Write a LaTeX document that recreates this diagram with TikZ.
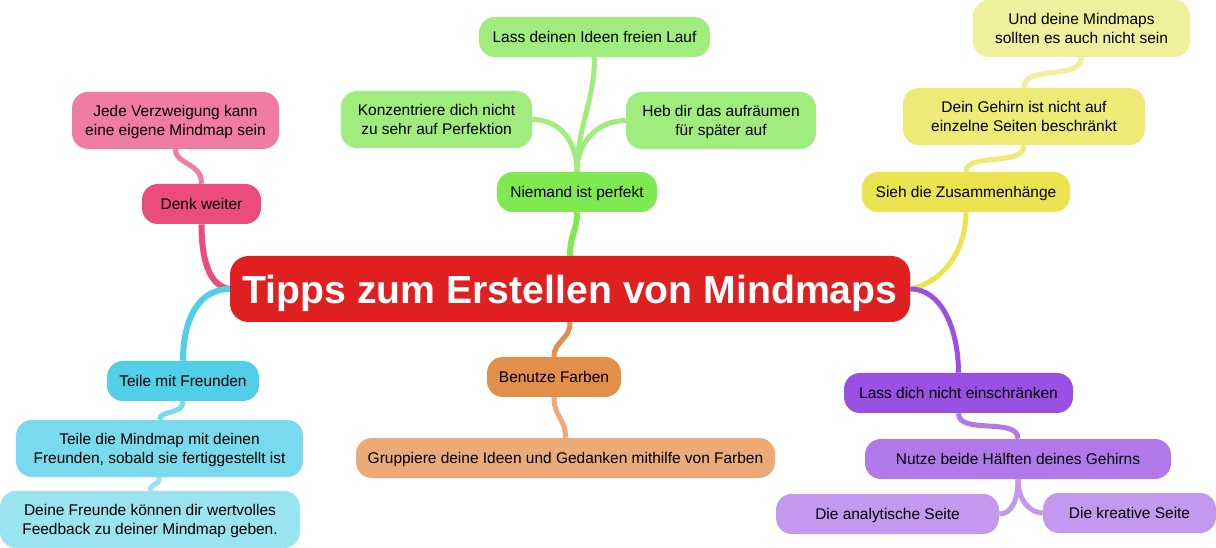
\documentclass[tikz,border=0pt]{standalone}
\usepackage{fontspec}
\setmainfont{Liberation Sans}
\usetikzlibrary{backgrounds}
\definecolor{rootc}{HTML}{E02020}
\definecolor{pinkA}{HTML}{EA4C7E}
\definecolor{pinkB}{HTML}{F07CA5}
\definecolor{greenA}{HTML}{80E850}
\definecolor{greenB}{HTML}{A0EC7C}
\definecolor{yelA}{HTML}{E9E450}
\definecolor{yelB}{HTML}{EDEA75}
\definecolor{yelC}{HTML}{F0EF9B}
\definecolor{cyanA}{HTML}{50CFE6}
\definecolor{cyanB}{HTML}{78DAEC}
\definecolor{cyanC}{HTML}{9AE3F0}
\definecolor{oraA}{HTML}{E38F4C}
\definecolor{oraB}{HTML}{EBAA78}
\definecolor{purA}{HTML}{9A50E3}
\definecolor{purB}{HTML}{B078E8}
\definecolor{purC}{HTML}{C299EE}
\newcommand\tx[1]{\raisebox{-4.5pt}[0pt][0pt]{\begin{tabular}{@{}c@{}}#1\end{tabular}}}
\newcommand\rtx[1]{\raisebox{-10.8pt}[0pt][0pt]{\begin{tabular}{@{}c@{}}#1\end{tabular}}}
\tikzset{
  idea/.style n args={3}{fill=#1,rounded corners=12pt,inner sep=0pt,
    minimum width=#2*0.75pt,minimum height=#3*0.75pt,text=black,
    font=\fontsize{11.6}{14.3}\selectfont},
  rootbox/.style={fill=rootc,rounded corners=14pt,inner sep=0pt,
    minimum width=680*0.75pt,minimum height=66*0.75pt,text=white,
    font=\fontsize{29.4}{32}\selectfont\bfseries},
  link/.style={line width=#1*0.75pt,line cap=butt},
  link/.default=5
}
\begin{document}
\begin{tikzpicture}[x=0.75pt,y=-0.75pt]
\useasboundingbox (0,0) rectangle (1216,548);
\node[rootbox] (root) at (570,289) {\rtx{Tipps zum Erstellen von Mindmaps}};
\node[idea={pinkA}{119}{40}] (denk) at (201.5,204) {\tx{Denk weiter}};
\node[idea={pinkB}{207}{57}] (jede) at (175.5,120.5) {\tx{Jede Verzweigung kann\\eine eigene Mindmap sein}};
\node[idea={greenA}{160}{40}] (niemand) at (577,192) {\tx{Niemand ist perfekt}};
\node[idea={greenB}{231}{40}] (lauf) at (594.5,37) {\tx{Lass deinen Ideen freien Lauf}};
\node[idea={greenB}{191}{57}] (konz) at (436.5,119.5) {\tx{Konzentriere dich nicht\\zu sehr auf Perfektion}};
\node[idea={greenB}{190}{57}] (heb) at (721,120.5) {\tx{Heb dir das aufräumen\\für später auf}};
\node[idea={yelA}{208}{40}] (sieh) at (966,192) {\tx{Sieh die Zusammenhänge}};
\node[idea={yelB}{242}{57}] (dein) at (1024,116.5) {\tx{Dein Gehirn ist nicht auf\\einzelne Seiten beschränkt}};
\node[idea={yelC}{217}{57}] (und) at (1081.5,28.5) {\tx{Und deine Mindmaps\\sollten es auch nicht sein}};
\node[idea={cyanA}{152}{40}] (teilem) at (183,381) {\tx{Teile mit Freunden}};
\node[idea={cyanB}{287}{57}] (teiled) at (159.5,448.5) {\tx{Teile die Mindmap mit deinen\\Freunden, sobald sie fertiggestellt ist}};
\node[idea={cyanC}{300}{57}] (deine) at (150,519.5) {\tx{Deine Freunde können dir wertvolles\\Feedback zu deiner Mindmap geben.}};
\node[idea={oraA}{134}{40}] (farben) at (554,377) {\tx{Benutze Farben}};
\node[idea={oraB}{419}{40}] (grupp) at (565.5,458) {\tx{Gruppiere deine Ideen und Gedanken mithilfe von Farben}};
\node[idea={purA}{229}{40}] (lass) at (958.5,393) {\tx{Lass dich nicht einschränken}};
\node[idea={purB}{306}{40}] (nutze) at (1018,459) {\tx{Nutze beide Hälften deines Gehirns}};
\node[idea={purC}{223}{40}] (ana) at (887.5,514) {\tx{Die analytische Seite}};
\node[idea={purC}{173}{40}] (krea) at (1129.5,513) {\tx{Die kreative Seite}};
\begin{scope}[on background layer]
\fill[white] (0,0) rectangle (1216,548);
\draw[link=6,pinkA] (root.west) .. controls +(-22,-3) and +(0,32) .. (denk.south);
\draw[link=5,pinkB] (denk.north) .. controls +(0,-22) and +(0,16) .. (jede.south);
\draw[link=6,greenA] (root.north) .. controls +(0,-22) and +(0,20) .. (niemand.south);
\draw[link=5,greenB] (niemand.north) .. controls +(0,-45) and +(0,45) .. (lauf.south);
\draw[link=5,greenB] (niemand.north) .. controls +(0,-30) and +(28,0) .. (konz.east);
\draw[link=5,greenB] (niemand.north) .. controls +(0,-30) and +(-28,0) .. (heb.west);
\draw[link=5,yelA] (root.east) .. controls +(36,-8) and +(0,35) .. (sieh.south);
\draw[link=5,yelB] (sieh.north) .. controls +(0,-20) and +(0,22) .. (dein.south);
\draw[link=5,yelC] (dein.north) .. controls +(0,-24) and +(0,24) .. (und.south);
\draw[link=6,cyanA] (root.west) .. controls +(-32,0) and +(0,-40) .. (teilem.north);
\draw[link=5,cyanB] (teilem.south) .. controls +(0,14) and +(0,-10) .. (teiled.north);
\draw[link=5,cyanC] (teiled.south) .. controls +(0,8) and +(0,-7) .. (deine.north);
\draw[link=5,oraA] (root.south) .. controls +(0,18) and +(0,-16) .. (farben.north);
\draw[link=5,oraB] (farben.south) .. controls +(0,20) and +(0,-20) .. (grupp.north);
\draw[link=5,purA] (root.east) .. controls +(32,0) and +(0,-42) .. (lass.north);
\draw[link=5,purB] (lass.south) .. controls +(0,22) and +(0,-22) .. (nutze.north);
\draw[link=5,purC] (nutze.south) .. controls +(0,22) and +(12,0) .. (ana.east);
\draw[link=5,purC] (nutze.south) .. controls +(0,22) and +(-12,0) .. (krea.west);
\end{scope}
\end{tikzpicture}
\end{document}
